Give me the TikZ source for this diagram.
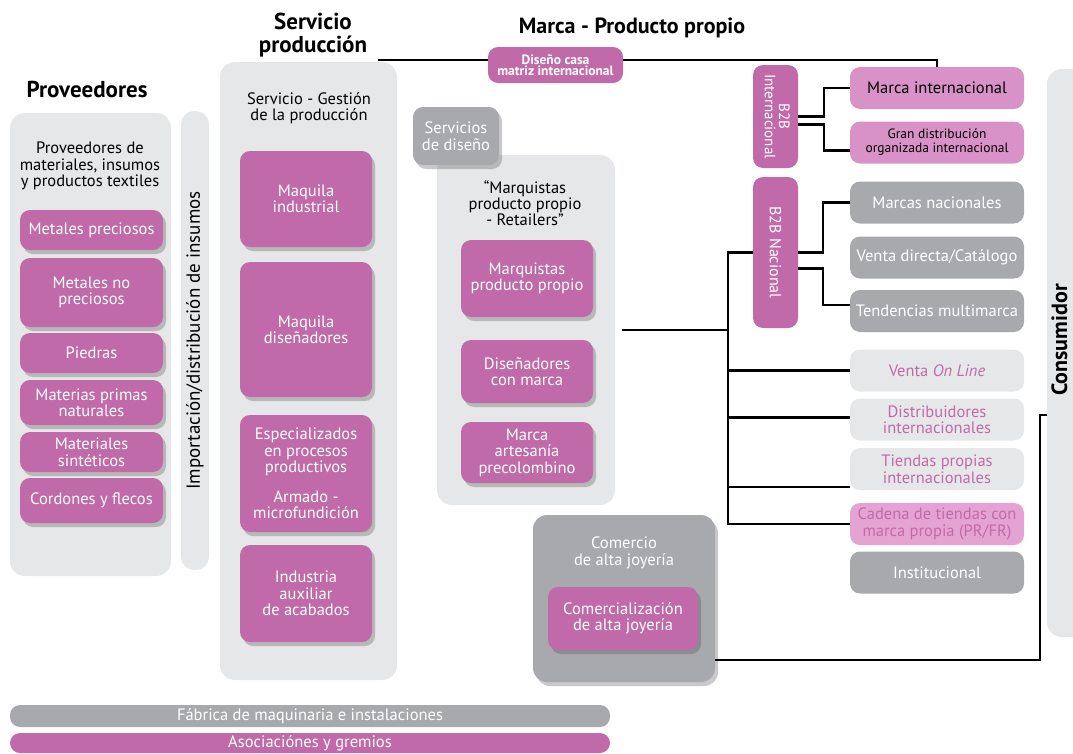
\documentclass[tikz,border=0pt]{standalone}
\usepackage{fontspec}
\setmainfont{PT Sans}
\usepackage{graphicx}
\usetikzlibrary{shadows}
\definecolor{pinkc}{RGB}{192,106,170}
\definecolor{softpink}{RGB}{217,146,199}
\definecolor{palepink}{RGB}{229,163,211}
\definecolor{panelc}{RGB}{230,231,232}
\definecolor{grayc}{RGB}{167,169,172}

\begin{document}
\begin{tikzpicture}[x=1pt, y=-1pt,
  every node/.style={font=\fontsize{16.5}{16.5}\selectfont, align=center, inner sep=2pt},
  shd/.style={drop shadow={shadow xshift=3pt, shadow yshift=-4pt, opacity=0.3, fill=black!70}},
  panel/.style={fill=panelc, rounded corners=15pt},
  pbox/.style={fill=pinkc, text=white, rounded corners=10pt, shd},
  gbox/.style={fill=grayc, text=white, rounded corners=10pt},
  lbox/.style={fill=panelc, text=pinkc, rounded corners=10pt},
  rbox/.style={minimum width=174, minimum height=42, rounded corners=10pt},
  bbox/.style={fill=pinkc, text=white, rounded corners=10pt, minimum width=45},
  hd/.style={font=\fontsize{23}{23}\selectfont\bfseries},
  link/.style={line width=2.2pt}]
  \useasboundingbox (0,0) rectangle (1073,753);

  % proveedores
  \node[hd] (prov) at (87,89) {Proveedores};
  \node[panel, minimum width=161, minimum height=463] (provp) at (90.5,344.5) {};
  \node (provt) at (90,166) {Proveedores de\\materiales, insumos\\y productos textiles};
  \node[pbox, minimum width=143, minimum height=40] (m1) at (91.5,230) {Metales preciosos};
  \node[pbox, minimum width=143, minimum height=69] (m2) at (91.5,292.5) {Metales no\\preciosos};
  \node[pbox, minimum width=143, minimum height=40] (m3) at (91.5,353) {Piedras};
  \node[pbox, minimum width=143, minimum height=45] (m4) at (91.5,402.5) {Materias primas\\naturales};
  \node[pbox, minimum width=143, minimum height=40] (m5) at (91.5,452) {Materiales\\sintéticos};
  \node[pbox, minimum width=143, minimum height=45] (m6) at (91.5,500.5) {Cordones y flecos};
  \node[panel, rounded corners=13pt, minimum width=28, minimum height=459, font=\fontsize{19}{19}\selectfont] (imp) at (195,340.5) {\rotatebox{90}{Importación/distribución de insumos}};

  % servicio produccion
  \node[hd] (serv) at (313,35) {Servicio\\producción};
  \node[panel, minimum width=177, minimum height=618] (servp) at (308.5,371) {};
  \node (servt) at (309,108) {Servicio - Gestión\\de la producción};
  \node[pbox, minimum width=132, minimum height=96] (s1) at (306,199) {Maquila\\industrial};
  \node[pbox, minimum width=132, minimum height=135] (s2) at (306,329.5) {Maquila\\diseñadores};
  \node[pbox, minimum width=132, minimum height=117] (s3) at (306,473.5) {Especializados\\en procesos\\productivos\\[13pt]Armado -\\microfundición};
  \node[pbox, minimum width=132, minimum height=97] (s4) at (306,593.5) {Industria\\auxiliar\\de acabados};

  % marca - producto propio
  \node[hd, font=\fontsize{22}{22}\selectfont\bfseries] (marca) at (632,28) {Marca - Producto propio};
  \node[panel, minimum width=178, minimum height=350] (mqp) at (526,330) {};
  \node[gbox, shd, minimum width=86, minimum height=58] (sdis) at (456,136) {Servicios\\de diseño};
  \node[font=\fontsize{16.5}{16}\selectfont] (mqt) at (525,203) {“Marquistas\\producto propio\\- Retailers”};
  \node[pbox, minimum width=132, minimum height=77] (q1) at (527,278.5) {Marquistas\\producto propio};
  \node[pbox, minimum width=132, minimum height=63] (q2) at (527,371.5) {Diseñadores\\con marca};
  \node[pbox, minimum width=132, minimum height=61] (q3) at (527,452.5) {Marca\\artesanía\\precolombino};

  \node[gbox, shd, rounded corners=14pt, minimum width=182, minimum height=167] (com) at (624,598.5) {};
  \node[text=white] (comt) at (624,553) {Comercio\\de alta joyería};
  \node[pbox, minimum width=150, minimum height=63] (com2) at (623,618.5) {Comercialización\\de alta joyería};

  % canales
  \node[bbox, minimum height=103, font=\fontsize{15}{12}\selectfont] (bint) at (775.5,116.5) {\rotatebox{-90}{\begin{tabular}{@{}c@{}}B2B\\Internacional\end{tabular}}};
  \node[bbox, minimum height=151, font=\fontsize{16}{16}\selectfont] (bnac) at (775.5,252.5) {\rotatebox{-90}{B2B Nacional}};
  \node[rbox, fill=softpink] (r1) at (937,88) {Marca internacional};
  \node[rbox, fill=softpink, font=\fontsize{13.5}{14}\selectfont] (r2) at (937,142.5) {Gran distribución\\organizada internacional};
  \node[rbox, gbox] (r3) at (937,202.5) {Marcas nacionales};
  \node[rbox, gbox] (r4) at (937,257.5) {Venta directa/Catálogo};
  \node[rbox, gbox] (r5) at (937,311) {Tendencias multimarca};
  \node[rbox, lbox] (r6) at (937,370.5) {Venta \textit{On Line}};
  \node[rbox, lbox] (r7) at (937,419.5) {Distribuidores\\internacionales};
  \node[rbox, lbox] (r8) at (937,469) {Tiendas propias\\internacionales};
  \node[rbox, fill=palepink, text=pinkc] (r9) at (937,524) {Cadena de tiendas con\\marca propia (PR/FR)};
  \node[rbox, gbox] (r10) at (937,572.5) {Institucional};

  \node[panel, minimum width=50, minimum height=568] (cons) at (1072,353) {};
  \node[font=\fontsize{22}{22}\selectfont\bfseries] (const) at (1059.5,340) {\rotatebox{90}{Consumidor}};

  \node[gbox, minimum width=600, minimum height=22, inner sep=0pt] (fab) at (310,716) {Fábrica de maquinaria e instalaciones};
  \node[fill=pinkc, text=white, rounded corners=10pt, minimum width=600, minimum height=20, inner sep=0pt] (asoc) at (310,743) {Asociaciónes y gremios};

  % conexiones
  \coordinate (tl) at (378,60);
  \draw[line width=1.5pt] (tl) -| (r1.north);
  \node[fill=pinkc, text=white, rounded corners=10pt, minimum width=135, minimum height=36, font=\fontsize{13.5}{11.5}\selectfont\bfseries] (dcasa) at (555.5,65) {Diseño casa\\matriz internacional};
  \draw[link] (bint.east) -- ++(26,0) |- (r1.west);
  \draw[link] ([yshift=-8]bint.east) -- ++(26,0) |- ([yshift=-8]r2.west);
  \draw[link] (bnac.east) -- ++(25,0) |- (r3.west);
  \draw[link] ([yshift=-16]bnac.east) -- ++(25,0) |- ([yshift=6]r5.west);
  \draw[link] (bnac.west) -- ++(-25,0) coordinate (bus) |- (r9.west);
  \draw[link] ([xshift=7]mqp.east) -- (bus |- mqp.east);
  \draw[link] (bus |- r6.west) -- (r6.west);
  \draw[link] ([yshift=2]r7.west) -- ++(-122,0);
  \draw[link] ([yshift=-18]r8.west) -- ++(-122,0);
  \draw[line width=1.5pt] ([yshift=-61.5]com.east) -- ++(325,0) |- (cons.west |- 0,415);
\end{tikzpicture}
\end{document}
